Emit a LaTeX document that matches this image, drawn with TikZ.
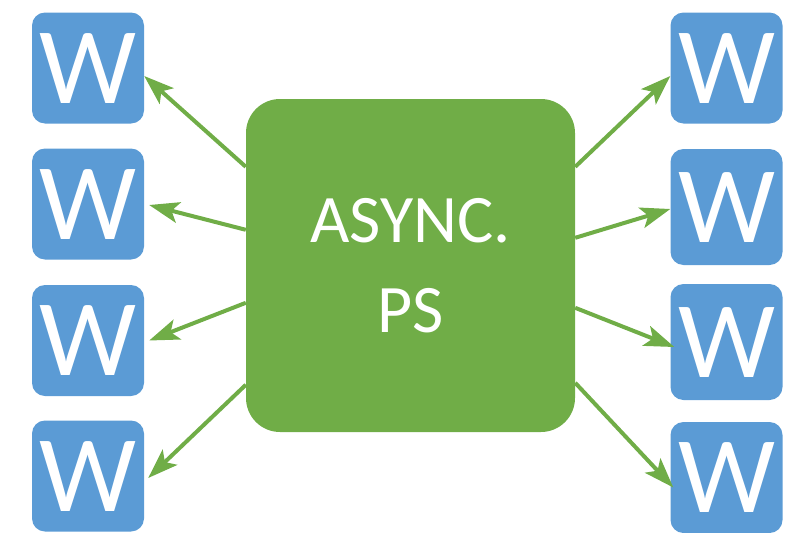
\documentclass[tikz,border=0pt]{standalone}
\usepackage{fontspec}
\setmainfont{Carlito}
\usetikzlibrary{arrows.meta,calc}
\definecolor{wblue}{HTML}{5B9BD5}
\definecolor{psgreen}{HTML}{70AD47}
\begin{document}
\begin{tikzpicture}[x=1pt,y=-1pt,
  wbox/.style={fill=wblue,draw=none,rounded corners=13pt,minimum width=112pt,minimum height=111pt,inner sep=0pt,text=white,text height=70pt,text depth=0pt,font=\fontsize{109}{109}\selectfont},
  psbox/.style={fill=psgreen,draw=none,rounded corners=34pt,minimum width=329pt,minimum height=333pt,inner sep=0pt,text=white,align=center,font=\fontsize{68}{90}\selectfont},
  arr/.style={draw=psgreen,line width=4pt,-{Stealth[length=30pt,width=21pt,inset=7pt]}}]
\useasboundingbox (0,0) rectangle (801,533);
\node[psbox] (ps) at (410.5,265.5) {ASYNC.\\PS};
\node[wbox] (l1) at (88,68) {W};
\node[wbox] (l2) at (88,204) {W};
\node[wbox] (l3) at (88,340.5) {W};
\node[wbox] (l4) at (88,476) {W};
\node[wbox] (r1) at (726.5,68) {W};
\node[wbox,minimum height=116pt] (r2) at (726.5,207) {W};
\node[wbox,minimum height=116pt] (r3) at (726.5,342) {W};
\node[wbox] (r4) at (726.5,477.5) {W};
\coordinate (sl1) at ($(ps.north west)+(0,68)$);
\coordinate (sl2) at ($(ps.north west)+(0,131)$);
\coordinate (sl3) at ($(ps.north west)+(0,204)$);
\coordinate (sl4) at ($(ps.north west)+(0,286)$);
\coordinate (sr1) at ($(ps.north east)+(0,68)$);
\coordinate (sr2) at ($(ps.north east)+(0,139)$);
\coordinate (sr3) at ($(ps.north east)+(0,209)$);
\coordinate (sr4) at ($(ps.north east)+(0,284)$);
\draw[arr] (sl1) -- ($(l1.east)+(0,8)$);
\draw[arr] (sl2) -- ($(l2.east)+(5,1)$);
\draw[arr] (sl3) -- ($(l3.east)+(5,0)$);
\draw[arr] (sl4) -- ($(l4.east)+(4,2)$);
\draw[arr] (sr1) -- ($(r1.west)+(0,8)$);
\draw[arr] (sr2) -- ($(r2.west)+(0,2)$);
\draw[arr] (sr3) -- ($(r3.west)+(4,5)$);
\draw[arr] (sr4) -- ($(r4.west)+(3,10)$);
\end{tikzpicture}
\end{document}
